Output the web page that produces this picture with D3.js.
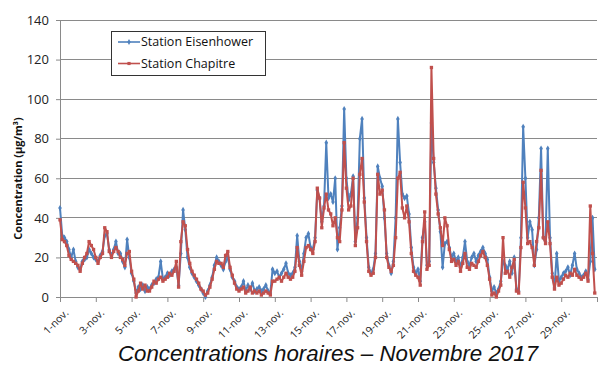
<!DOCTYPE html>
<html>
<head>
<meta charset="utf-8">
<script src="https://cdn.jsdelivr.net/npm/d3@7"></script>
<style>
  html, body { margin: 0; padding: 0; background: #fff; }
  svg { display: block; }
</style>
</head>
<body>
<svg id="chart" width="606" height="367"></svg>
<script>
// Hourly concentrations, sampled every 3 hours (8 values per day), 1–30 November 2017
const stepHours = 3;

const eisenhower = [
  45, 31, 30, 28, 24, 20, 24, 18,
  15, 14, 18, 19, 20, 24, 22, 20,
  19, 18, 21, 23, 31, 32, 24, 21,
  24, 28, 22, 22, 18, 15, 29, 20,
  12, 8, 2, 5, 4, 6, 3, 5,
  4, 6, 7, 9, 10, 18, 9, 10,
  12, 11, 13, 14, 15, 6, 22, 44,
  34, 20, 15, 12, 10, 8, 6, 4,
  2, 0, 3, 6, 10, 16, 20, 18,
  16, 14, 18, 20, 14, 10, 8, 5,
  4, 5, 8, 3, 6, 4, 7, 3,
  4, 5, 3, 4, 6, 3, 2, 14,
  12, 13, 10, 12, 14, 17, 12, 11,
  12, 15, 31, 18, 13, 22, 30, 32,
  25, 24, 30, 54, 50, 38, 46, 78,
  50, 52, 48, 60, 24, 35, 46, 95,
  60, 49, 52, 61, 28, 40, 80, 90,
  50, 30, 15, 12, 14, 22, 66, 60,
  56, 40, 22, 16, 12, 18, 40, 90,
  68, 52, 50, 51, 42, 25, 15, 12,
  14, 8, 30, 38, 16, 18, 88, 68,
  55, 44, 33, 15, 27, 28, 25, 20,
  22, 18, 20, 15, 20, 28, 18, 16,
  20, 22, 18, 21, 23, 25, 22, 19,
  10, 3, 5, 2, 4, 8, 18, 16,
  14, 18, 12, 20, 4, 3, 30, 86,
  60, 30, 38, 34, 16, 24, 40, 75,
  30, 28, 75, 30, 12, 5, 22, 8,
  10, 12, 13, 15, 11, 16, 22, 14,
  12, 10, 11, 13, 9, 18, 40, 14
];

const chapitre = [
  39, 29, 28, 26, 21, 19, 18, 17,
  16, 13, 17, 20, 22, 28, 26, 24,
  20, 17, 20, 22, 35, 33, 23, 20,
  23, 25, 23, 20, 19, 16, 22, 23,
  13, 9, 0, 3, 7, 4, 6, 3,
  3, 5, 8, 7, 9, 10, 8, 9,
  10, 12, 11, 13, 18, 5, 28, 38,
  36, 24, 17, 13, 11, 9, 7, 4,
  3, 1, 2, 5, 9, 14, 18, 17,
  17, 15, 21, 23, 15, 11, 7, 4,
  3, 4, 5, 2, 3, 5, 2, 3,
  2, 3, 1, 2, 3, 2, 1, 8,
  8, 9, 10, 8, 10, 12, 10, 9,
  10, 13, 25, 16, 11, 18, 25, 26,
  24, 22, 28, 55, 50, 35, 45, 52,
  44, 42, 36, 40, 30, 28, 44, 78,
  55, 44, 46, 60, 26, 35, 62, 70,
  48, 28, 13, 11, 12, 20, 62, 52,
  54, 44, 20, 15, 13, 16, 30, 60,
  63, 45, 40, 46, 38, 22, 13, 11,
  10, 6, 28, 43, 14, 16, 116, 70,
  52, 42, 35, 26, 40, 36, 24, 18,
  19, 16, 18, 13, 17, 22, 15, 14,
  17, 16, 15, 18, 21, 23, 20, 16,
  9, 1, 2, 0, 3, 6, 30, 12,
  13, 10, 15, 19, 3, 2, 25, 58,
  45, 27, 28, 25, 16, 28, 35, 64,
  30, 27, 38, 27, 10, 4, 10, 6,
  7, 9, 11, 10, 12, 11, 14, 11,
  10, 9, 10, 12, 8, 46, 22, 2
];

const seriesNames = ["Station Eisenhower", "Station Chapitre"];
const seriesColors = ["#4f81bd", "#c0504d"];

const dayLabels = ["1-nov.", "3-nov.", "5-nov.", "7-nov.", "9-nov.", "11-nov.", "13-nov.", "15-nov.",
                   "17-nov.", "19-nov.", "21-nov.", "23-nov.", "25-nov.", "27-nov.", "29-nov."];
const yTicks = [0, 20, 40, 60, 80, 100, 120, 140];

const yTitle = "Concentration (µg/m³)";
const chartTitle = "Concentrations horaires – Novembre 2017";

// ---- layout ----
const svg = d3.select("#chart");
const plot = { left: 60, right: 597, top: 20, bottom: 297 };
const totalHours = 30 * 24;

const x = d3.scaleLinear().domain([0, totalHours]).range([plot.left, plot.right]);
const y = d3.scaleLinear().domain([0, 140]).range([plot.bottom, plot.top]);

const gridColor = "#8a8a8a";

// horizontal gridlines
svg.append("g")
  .selectAll("line")
  .data(yTicks)
  .join("line")
  .attr("x1", plot.left).attr("x2", plot.right)
  .attr("y1", d => y(d)).attr("y2", d => y(d))
  .attr("stroke", gridColor).attr("stroke-width", 1)
  .attr("shape-rendering", "crispEdges");

// y axis
const yAxis = svg.append("g")
  .attr("transform", `translate(${plot.left},0)`)
  .call(d3.axisLeft(y).tickValues(yTicks).tickSize(4).tickPadding(7));
yAxis.select(".domain").attr("stroke", gridColor);
yAxis.selectAll(".tick line").attr("stroke", gridColor);
yAxis.selectAll("text")
  .attr("font-family", "'Open Sans', sans-serif")
  .attr("font-size", 13)
  .attr("fill", "#222");

// x axis: tick every two days, labels on odd days
const tickHours = d3.range(0, totalHours + 1, 48);
const xAxis = svg.append("g")
  .attr("transform", `translate(0,${plot.bottom})`)
  .call(d3.axisBottom(x).tickValues(tickHours).tickSize(5)
        .tickFormat((d, i) => dayLabels[i] || ""));
xAxis.select(".domain").attr("stroke", gridColor);
xAxis.selectAll(".tick line").attr("stroke", gridColor);
xAxis.selectAll("text")
  .attr("font-family", "'Open Sans', sans-serif")
  .attr("font-size", 10.5)
  .attr("fill", "#222")
  .attr("text-anchor", "end")
  .attr("dy", 0)
  .attr("transform", "translate(3,11) rotate(-45)");

// series
const line = d3.line()
  .x((d, i) => x(i * stepHours))
  .y(d => y(d));

const seriesData = [eisenhower, chapitre];
const markerShapes = [d3.symbolDiamond, d3.symbolSquare];

seriesData.forEach((vals, s) => {
  const g = svg.append("g");
  g.append("path")
    .datum(vals)
    .attr("d", line)
    .attr("fill", "none")
    .attr("stroke", seriesColors[s])
    .attr("stroke-width", 2)
    .attr("stroke-linejoin", "round");
  const sym = d3.symbol().type(markerShapes[s]).size(11);
  g.selectAll("path.mk")
    .data(vals)
    .join("path")
    .attr("class", "mk")
    .attr("d", sym)
    .attr("transform", (d, i) => `translate(${x(i * stepHours)},${y(d)})`)
    .attr("fill", seriesColors[s]);
});

// y axis title
svg.append("text")
  .attr("transform", `translate(22,${(plot.top + plot.bottom) / 2 + 20}) rotate(-90)`)
  .attr("text-anchor", "middle")
  .attr("font-family", "'Open Sans', sans-serif")
  .attr("font-weight", "bold")
  .attr("font-size", 11)
  .attr("fill", "#111")
  .text(yTitle);

// legend
const legend = svg.append("g").attr("transform", "translate(111,31)");
legend.append("rect")
  .attr("x", 0).attr("y", 0).attr("width", 154).attr("height", 44)
  .attr("fill", "#fff").attr("stroke", "#333").attr("stroke-width", 1)
  .attr("shape-rendering", "crispEdges");
seriesNames.forEach((name, s) => {
  const cy = 11 + s * 21.5;
  legend.append("line")
    .attr("x1", 7).attr("x2", 29).attr("y1", cy).attr("y2", cy)
    .attr("stroke", seriesColors[s]).attr("stroke-width", 1.6);
  legend.append("path")
    .attr("d", d3.symbol().type(markerShapes[s]).size(10))
    .attr("transform", `translate(18,${cy})`)
    .attr("fill", seriesColors[s]);
  legend.append("text")
    .attr("x", 30).attr("y", cy)
    .attr("dy", "0.35em")
    .attr("font-family", "'Open Sans', sans-serif")
    .attr("font-size", 12.5)
    .attr("fill", "#111")
    .text(name);
});

// chart caption
svg.append("text")
  .attr("x", 328).attr("y", 361)
  .attr("text-anchor", "middle")
  .attr("font-family", "'Liberation Sans', Arial, sans-serif")
  .attr("font-style", "italic")
  .attr("font-size", 22.3)
  .attr("fill", "#111")
  .text(chartTitle);
</script>
</body>
</html>
